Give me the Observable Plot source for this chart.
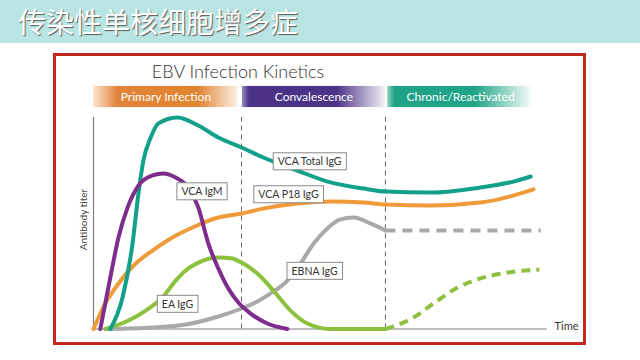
<!DOCTYPE html>
<html><head><meta charset="utf-8">
<script src="https://cdn.jsdelivr.net/npm/d3@7"></script>
<script src="https://cdn.jsdelivr.net/npm/@observablehq/plot@0.6"></script>
<style>
html,body{margin:0;padding:0;background:#fff;}
#page{position:relative;width:640px;height:360px;overflow:hidden;}
#banner{position:absolute;left:0;top:0;width:640px;height:43px;background:#b8e5e4;}
#banner span{position:absolute;left:18px;top:4px;font:400 28px "Noto Sans CJK SC";color:#fff;text-shadow:1px 1px 1px #5a5a5a;line-height:34px;white-space:nowrap;}
#frame{position:absolute;left:53px;top:53px;width:527px;height:286px;border:3px solid #c4271d;}
#title{position:absolute;left:118px;top:60px;width:240px;text-align:center;font:300 18px Lato;line-height:22px;color:#333;}
#chart{position:absolute;left:56px;top:84px;}
</style></head>
<body>
<svg width="0" height="0" style="position:absolute">
 <defs>
  <linearGradient id="gPrimary" x1="0" x2="1" y1="0" y2="0">
   <stop offset="0" stop-color="#fbe6d0"/>
   <stop offset="0.17" stop-color="#e2843a"/>
   <stop offset="0.72" stop-color="#e0842f"/>
   <stop offset="1" stop-color="#fcf1e6"/>
  </linearGradient>
  <linearGradient id="gConv" x1="0" x2="1" y1="0" y2="0">
   <stop offset="0" stop-color="#9a8cc0"/>
   <stop offset="0.05" stop-color="#4b3286"/>
   <stop offset="0.66" stop-color="#4b3286"/>
   <stop offset="1" stop-color="#f4f1f9"/>
  </linearGradient>
  <linearGradient id="gChronic" x1="0" x2="1" y1="0" y2="0">
   <stop offset="0" stop-color="#8fd3c2"/>
   <stop offset="0.05" stop-color="#1ea386"/>
   <stop offset="0.6" stop-color="#1ea386"/>
   <stop offset="1" stop-color="#ffffff"/>
  </linearGradient>
 </defs>
</svg>
<div id="page">
 <div id="banner"><span>传染性单核细胞增多症</span></div>
 <div id="frame"></div>
 <div id="title">EBV Infection Kinetics</div>
 <div id="chart"></div>
</div>
<script>
// Phases (time units 0..100)
const phaseNames = ["Primary Infection", "Convalescence", "Chronic/Reactivated"];
const phaseStart = [0, 32.8, 64.8];
const phaseEnd = [31.9, 64.3, 96.9];
const phaseGradients = ["gPrimary", "gConv", "gChronic"];
const phaseBoundaries = [32.6, 64.3];

// Curves: [time, titer]
const vcaTotalIgG = [[3.7,0],[6.4,14.9],[8.6,40.4],[9.9,64.1],[11.0,79.7],[12.6,90.5],[14.3,97.2],[18.5,100],[23.1,96.2],[27.5,90.5],[32.6,85.8],[37.4,81.1],[44.9,74.9],[52.2,69.3],[59.5,66.4],[64.3,65.0],[74.2,64.5],[85.2,66.9],[92.5,69.7],[96.3,72.1]];
const vcaIgM = [[1.5,0],[3.7,24.3],[5.5,43.3],[7.5,57.4],[9.9,67.8],[13.0,72.6],[15.4,73.5],[18.1,71.6],[20.9,66.9],[23.1,57.4],[25.3,40.4],[27.5,28.6],[29.7,19.1],[31.9,12.5],[34.6,7.3],[38.3,2.6],[42.7,0]];
const vcaP18IgG = [[0,0],[2.6,12.1],[5.5,21.5],[9.3,31.0],[13.0,37.1],[17.4,43.3],[21.8,48.0],[27.5,52.7],[32.6,54.6],[37.4,56.9],[44.9,59.3],[52.2,60.3],[59.5,59.8],[64.3,58.9],[74.2,58.4],[85.2,59.8],[92.5,63.1],[96.9,66.0]];
const eaIgG = [[2.6,0],[7.7,4.0],[11.5,8.7],[15.2,14.9],[18.1,22.9],[20.3,27.7],[23.1,31.4],[27.5,33.8],[30.6,33.3],[32.6,31.4],[36.1,26.2],[39.6,18.2],[43.4,8.7],[47.1,2.6],[52.2,0],[64.3,0]];
const eaIgGReactivated = [[64.3,0],[70.5,5.4],[74.9,12.1],[80.2,19.6],[85.2,23.9],[91.2,26.7],[98.2,28.1]];
const ebnaIgG = [[2.6,0],[13.0,0.7],[20.3,2.1],[27.5,5.9],[32.6,9.7],[36.1,13.0],[39.0,16.8],[42.7,22.9],[45.6,31.0],[48.5,40.4],[51.5,47.5],[54.4,51.8],[57.3,52.7],[61.0,49.9],[64.3,46.6]];
const ebnaIgGLate = [[64.3,46.6],[98.5,46.6]];

// Curve labels
const labelText = ["VCA Total IgG", "VCA IgM", "VCA P18 IgG", "EBNA IgG", "EA IgG"];
const labelTime = [47.6, 23.9, 42.95, 48.7, 18.5];
const labelTiter = [79.0, 64.8, 63.4, 27.2, 11.6];

const series = [
  {name: "EBNA IgG", pts: ebnaIgG, color: "#a9a9a9", dash: null},
  {name: "EBNA IgG late", pts: ebnaIgGLate, color: "#a9a9a9", dash: "10,7"},
  {name: "EA IgG", pts: eaIgG, color: "#8dc03f", dash: null},
  {name: "EA IgG reactivated", pts: eaIgGReactivated, color: "#8dc03f", dash: "9,6"},
  {name: "VCA P18 IgG", pts: vcaP18IgG, color: "#ef9b3a", dash: null},
  {name: "VCA Total IgG", pts: vcaTotalIgG, color: "#12a08a", dash: null},
  {name: "VCA IgM", pts: vcaIgM, color: "#7e2d8c", dash: null}
];

const phases = phaseNames.map((n, i) => ({name: n, start: phaseStart[i], end: phaseEnd[i], grad: phaseGradients[i]}));
const labels = labelText.map((t, i) => ({text: t, x: labelTime[i], y: labelTiter[i]}));

const bandLow = 104.7, bandHigh = 114.7, bandMid = 109.7;

const lineMarks = series.map(s => Plot.line(s.pts, {
  x: d => d[0], y: d => d[1], stroke: s.color, strokeWidth: 4,
  strokeDasharray: s.dash ?? undefined, curve: "monotone-x",
  strokeLinecap: s.dash ? "butt" : "round"
}));

const chart = Plot.plot({
  width: 524, height: 256,
  marginLeft: 37, marginRight: 33, marginTop: 33, marginBottom: 11.5,
  x: {domain: [0, 100], axis: null},
  y: {domain: [0, 100], axis: null},
  style: {background: "transparent", overflow: "visible", fontFamily: "Lato"},
  marks: [
    Plot.rect(phases, {x1: "start", x2: "end", y1: bandLow, y2: bandHigh, fill: d => `url(#${d.grad})`}),
    Plot.text(phases, {x: d => (d.start + d.end) / 2, y: bandMid, text: "name", fill: "white", fontSize: 12}),
    Plot.ruleX(phaseBoundaries, {y1: 0, y2: 100, stroke: "#666", strokeWidth: 1, strokeDasharray: "5,4"}),
    Plot.ruleX([0], {y1: 0, y2: 100, stroke: "#808080", strokeWidth: 1.2}),
    Plot.ruleY([0], {x1: 0, x2: 100, stroke: "#808080", strokeWidth: 1.2}),
    ...lineMarks,
    Plot.text(labels, {x: "x", y: "y", text: "text", fontSize: 10.5, fill: "#333"}),
    Plot.text(["Antibody titer"], {x: -2.2, y: 51.8, text: d => d, rotate: -90, fontSize: 10, fill: "#444"}),
    Plot.text(["Time"], {x: 104.2, y: 1.2, text: d => d, fontSize: 11, fill: "#333"})
  ]
});
document.getElementById("chart").append(chart);

// Boxes around curve labels, sized from the rendered text
const ns = "http://www.w3.org/2000/svg";
chart.querySelectorAll("text").forEach(t => {
  if (!labelText.includes(t.textContent)) return;
  const b = t.getBBox();
  const r = document.createElementNS(ns, "rect");
  r.setAttribute("x", b.x - 4.5);
  r.setAttribute("y", b.y - 2.5);
  r.setAttribute("width", b.width + 9);
  r.setAttribute("height", b.height + 5);
  r.setAttribute("fill", "white");
  r.setAttribute("stroke", "#8a8a8a");
  r.setAttribute("stroke-width", "1");
  const tr = t.getAttribute("transform");
  if (tr) r.setAttribute("transform", tr);
  t.parentNode.insertBefore(r, t);
});
</script>
</body></html>
